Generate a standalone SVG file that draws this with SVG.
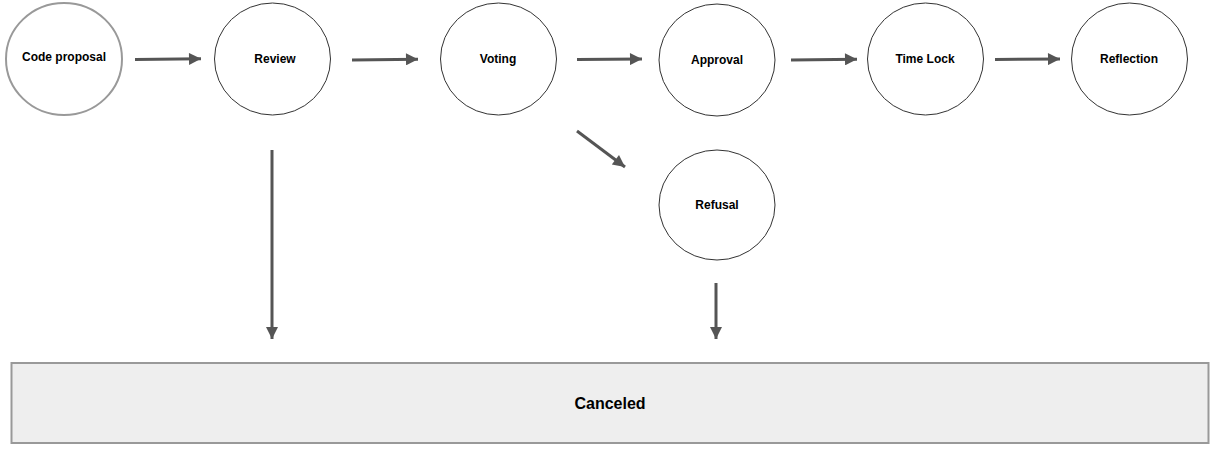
<svg xmlns="http://www.w3.org/2000/svg" width="1215" height="452" viewBox="0 0 1215 452">
<style>
.n{fill:#fff;stroke:#333;stroke-width:1}
.t{font-family:"Liberation Sans",Arial,sans-serif;font-size:12px;font-weight:bold;fill:#000;text-anchor:middle}
.e{stroke:#555;stroke-width:3;fill:none}
</style>
<defs>
<marker id="ah" viewBox="0 0 10 10" refX="10" refY="5" markerWidth="5" markerHeight="4" orient="auto" markerUnits="strokeWidth">
<path d="M0,0 L10,5 L0,10 z" fill="#555"/>
</marker>
</defs>
<rect width="1215" height="452" fill="#fff"/>
<g id="connectors">
<line class="e" x1="135" y1="59.5" x2="201" y2="58.8" marker-end="url(#ah)"/>
<line class="e" x1="352" y1="60" x2="418" y2="59.2" marker-end="url(#ah)"/>
<line class="e" x1="577" y1="59.5" x2="642" y2="59" marker-end="url(#ah)"/>
<line class="e" x1="791" y1="60" x2="857" y2="59.2" marker-end="url(#ah)"/>
<line class="e" x1="995" y1="59.5" x2="1060" y2="59" marker-end="url(#ah)"/>
<line class="e" x1="577" y1="131" x2="625" y2="167" marker-end="url(#ah)"/>
<line class="e" x1="272" y1="150" x2="272" y2="339" marker-end="url(#ah)"/>
<line class="e" x1="716" y1="283" x2="716" y2="339" marker-end="url(#ah)"/>
</g>
<g id="code-proposal">
<ellipse cx="64" cy="59" rx="58" ry="56" fill="#fff" stroke="#999" stroke-width="2"/>
<text class="t" x="64" y="61">Code proposal</text>
</g>
<g id="review">
<ellipse class="n" cx="272.5" cy="59" rx="58" ry="56"/>
<text class="t" x="275" y="63">Review</text>
</g>
<g id="voting">
<ellipse class="n" cx="498.5" cy="59" rx="58" ry="56"/>
<text class="t" x="498" y="63">Voting</text>
</g>
<g id="approval">
<ellipse class="n" cx="717" cy="60" rx="58" ry="56"/>
<text class="t" x="717" y="64">Approval</text>
</g>
<g id="time-lock">
<ellipse class="n" cx="925.5" cy="59" rx="58" ry="56"/>
<text class="t" x="925" y="63">Time Lock</text>
</g>
<g id="reflection">
<ellipse class="n" cx="1129.5" cy="59" rx="58" ry="56"/>
<text class="t" x="1129" y="63">Reflection</text>
</g>
<g id="refusal">
<ellipse class="n" cx="717" cy="205" rx="58" ry="55"/>
<text class="t" x="717" y="209">Refusal</text>
</g>
<g id="canceled">
<rect x="11.5" y="363" width="1197" height="80" fill="#eee" stroke="#999" stroke-width="2"/>
<text x="610" y="409" font-family="'Liberation Sans',Arial,sans-serif" font-size="16" font-weight="bold" text-anchor="middle" fill="#000">Canceled</text>
</g>
</svg>
